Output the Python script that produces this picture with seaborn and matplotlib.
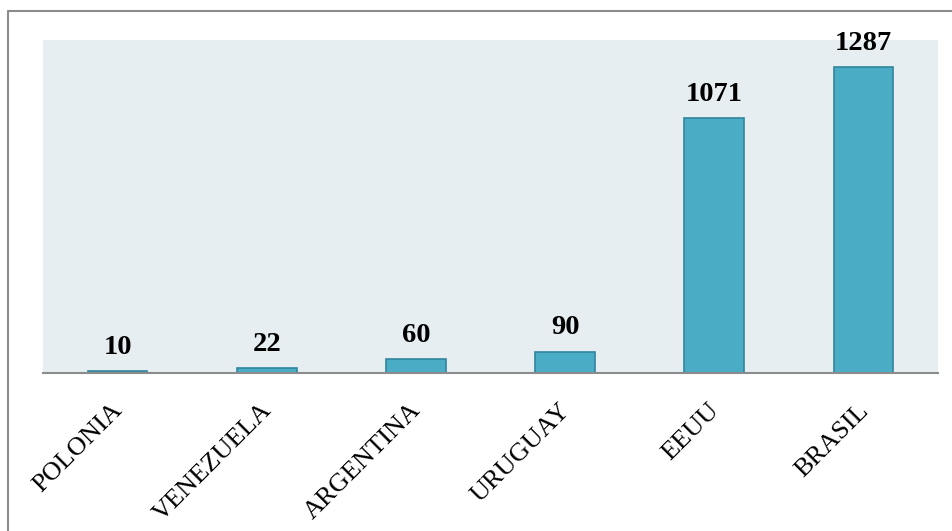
import matplotlib
matplotlib.use("Agg")
import matplotlib.pyplot as plt
import matplotlib.transforms as mtransforms
from matplotlib.lines import Line2D
import seaborn as sns
import pandas as pd

paises = ["POLONIA", "VENEZUELA", "ARGENTINA", "URUGUAY", "EEUU", "BRASIL"]
valores = [10, 22, 60, 90, 1071, 1287]

df = pd.DataFrame({"pais": paises, "valor": valores})

sns.set_theme(style="white")
plt.rcParams["font.family"] = ["Liberation Serif", "DejaVu Serif"]

fig = plt.figure(figsize=(9.53, 5.31), dpi=100)
ax = fig.add_axes([43 / 953, 1 - 373 / 531, (938 - 43) / 953, (373 - 40) / 531])
ax.set_facecolor("#E6EEF1")

sns.barplot(data=df, x="pais", y="valor", ax=ax, color="#4BACC6",
            saturation=1, width=0.4, edgecolor="#31859C", linewidth=1.2)

ax.set_ylim(0, 1400)
ax.set_xlim(-0.5, len(paises) - 0.5)
for s in ["top", "right", "left"]:
    ax.spines[s].set_visible(False)
ax.spines["bottom"].set_color("#8C8C8C")
ax.spines["bottom"].set_linewidth(1.5)
ax.set_yticks([])
ax.set_xlabel("")
ax.set_ylabel("")
ax.tick_params(axis="x", length=0, pad=19)
ax.set_xticks(range(len(paises)))
ax.set_xticklabels(paises, rotation=45, ha="right", rotation_mode="anchor",
                   fontsize=19, color="black")
shift = mtransforms.ScaledTranslation(-6 / 100, 0, fig.dpi_scale_trans)
for lbl in ax.get_xticklabels():
    lbl.set_transform(lbl.get_transform() + shift)

for i, v in enumerate(valores):
    ax.annotate(str(v), (i, v), xytext=(0, 8), textcoords="offset points",
                ha="center", va="bottom", fontsize=20.5, fontweight="bold",
                color="black", annotation_clip=False)

# outer frame lines (top and left)
fig.add_artist(Line2D([8 / 953, 1], [1 - 11 / 531, 1 - 11 / 531],
                      transform=fig.transFigure, color="#8C8C8C", lw=1.5))
fig.add_artist(Line2D([8 / 953, 8 / 953], [0, 1 - 11 / 531],
                      transform=fig.transFigure, color="#8C8C8C", lw=1.5))

fig.savefig("out.png", dpi=100)
